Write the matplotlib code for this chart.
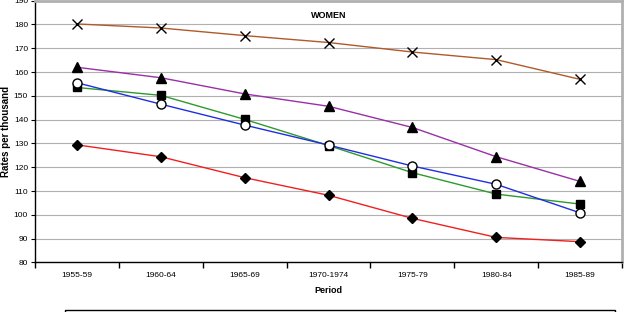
import matplotlib.pyplot as plt
from matplotlib.patches import Rectangle

periods = ["1955-59", "1960-64", "1965-69", "1970-1974", "1975-79", "1980-84", "1985-89"]
cross_vals = [180.2, 178.5, 175.3, 172.4, 168.4, 165.2, 156.9]
triangle_vals = [162.0, 157.6, 150.8, 145.6, 136.7, 124.4, 114.0]
circle_vals = [155.5, 146.5, 137.7, 129.3, 120.5, 112.8, 100.8]
square_vals = [153.5, 150.2, 140.1, 129.1, 117.7, 108.7, 104.5]
diamond_vals = [129.4, 124.4, 115.6, 108.2, 98.5, 90.5, 88.7]

plt.rcParams['font.family'] = ['Liberation Sans', 'DejaVu Sans']

fig = plt.figure(figsize=(6.24, 3.12), dpi=100)
ax = fig.add_axes([0.056, 0.159, 0.941, 0.839])

x = range(len(periods))
ax.plot(x, cross_vals, color='#B05A2A', lw=1, marker='x', ms=7, mec='black', mew=1)
ax.plot(x, triangle_vals, color='#9A2FA8', lw=1, marker='^', ms=7, mfc='black', mec='black')
ax.plot(x, square_vals, color='#2E9A2E', lw=1, marker='s', ms=6, mfc='black', mec='black')
ax.plot(x, circle_vals, color='#1F2FE0', lw=1, marker='o', ms=6.5, mfc='white', mec='black', mew=1)
ax.plot(x, diamond_vals, color='#F02020', lw=1, marker='D', ms=5, mfc='black', mec='black')

ax.set_xlim(-0.5, len(periods) - 0.5)
ax.set_ylim(80, 190)
ax.set_yticks(range(80, 191, 10))
ax.set_xticks(list(x))
ax.set_xticklabels(periods)
ax.set_xticks([i - 0.5 for i in range(len(periods) + 1)], minor=True)
ax.tick_params(axis='x', which='major', length=0, labelsize=6, pad=7)
ax.tick_params(axis='x', which='minor', length=4, direction='out', width=1)
ax.tick_params(axis='y', length=3, direction='out', labelsize=6, pad=2)

ax.grid(axis='y', color='#B0B0B0', lw=0.8)
ax.set_axisbelow(True)
for side in ['left', 'bottom']:
    ax.spines[side].set_color('black')
    ax.spines[side].set_linewidth(1)
for side in ['top', 'right']:
    ax.spines[side].set_color('#B0B0B0')
    ax.spines[side].set_linewidth(2)

ax.set_ylabel("Rates per thousand", fontsize=7, fontweight='bold', labelpad=2)
ax.set_xlabel("Period", fontsize=6.5, fontweight='bold', labelpad=5)
ax.text(0.5, 0.945, "WOMEN", transform=ax.transAxes, fontsize=6.5,
        fontweight='bold', ha='center', va='center')

# legend box, mostly cut off at the bottom edge
fig.patches.append(Rectangle((65 / 624, -0.05), 550 / 624, 0.05 + 2 / 312,
                             transform=fig.transFigure, fill=False,
                             edgecolor='black', lw=1))

fig.savefig("out.png", dpi=100)
